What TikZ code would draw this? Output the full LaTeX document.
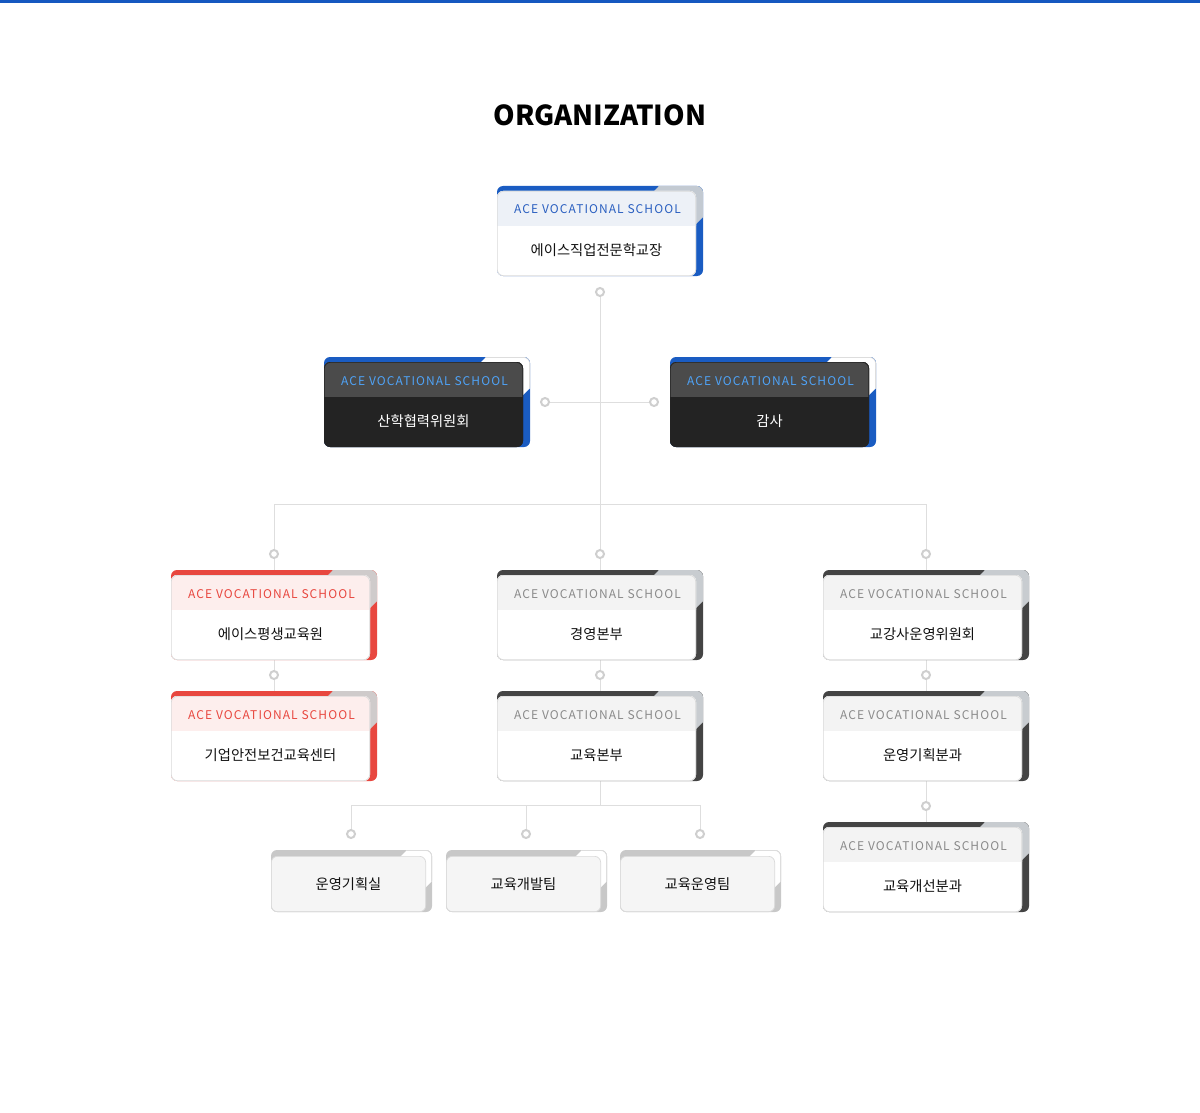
\documentclass[tikz,border=0pt]{standalone}
\usepackage{fontspec}
\setmainfont{Noto Sans CJK KR}
\newfontfamily\krfont{Noto Sans CJK KR}
\newfontfamily\acefont[LetterSpace=9]{Noto Sans CJK KR}
\usetikzlibrary{backgrounds}
\definecolor{topblue}{HTML}{1558C0}
\definecolor{accblue}{HTML}{1A5CC2}
\definecolor{bluecorner}{HTML}{C3CAD2}
\definecolor{bluehead}{HTML}{EDF1F7}
\definecolor{bluetext}{HTML}{2A5FC0}
\definecolor{accred}{HTML}{E8473F}
\definecolor{redcorner}{HTML}{CFCBCB}
\definecolor{redhead}{HTML}{FDEEED}
\definecolor{accdark}{HTML}{444444}
\definecolor{darkcorner}{HTML}{C8CCD0}
\definecolor{greyhead}{HTML}{F3F3F3}
\definecolor{greytext}{HTML}{8A8A8A}
\definecolor{darkhead}{HTML}{4B4B4B}
\definecolor{darkbody}{HTML}{232323}
\definecolor{skytext}{HTML}{4FA3F7}
\definecolor{inborder}{HTML}{DADADA}
\definecolor{outborder}{HTML}{DDDDDD}
\definecolor{smband}{HTML}{C8C8C8}
\definecolor{smfill}{HTML}{F5F5F5}
\definecolor{connline}{HTML}{DEDEDE}
\definecolor{dotring}{HTML}{CFCFCF}
\definecolor{maintxt}{HTML}{111111}

\newcommand{\cardset}[8]{\colorlet{cA}{#1}\colorlet{cC}{#2}\colorlet{cCd}{#3}\colorlet{cH}{#4}\colorlet{cHt}{#5}\colorlet{cB}{#6}\colorlet{cBt}{#7}\colorlet{cIb}{#8}}

\tikzset{
  cardbox/.style={inner sep=0pt, draw=none, rectangle},
  acetext/.style={inner sep=0pt, anchor=base, text=cHt, font=\acefont\fontsize{12}{13}\selectfont},
  maintext/.style={inner sep=0pt, font=\krfont\fontsize{14.3}{16}\selectfont},
  dot/.style={circle, draw=dotring, line width=2pt, fill=white, inner sep=0pt, minimum size=8pt},
  conn/.style={draw=connline, line width=1pt}
}

\newcommand{\bigcard}[4]{%
\begin{scope}[shift={(#2,#3)}]
 \fill[cA, rounded corners=6pt] (0,0) rectangle (206,90);
 \begin{scope}
  \clip (150,12) -- (162,0) -- (162,-3) -- (209,-3) -- (209,28) -- (190,47) -- cycle;
  \filldraw[fill=cC, draw=cCd, line width=0.8pt, rounded corners=6pt] (0.4,0.4) rectangle (205.6,89.6);
 \end{scope}
 \fill[cB, rounded corners=6pt] (0,5) rectangle (199,90);
 \begin{scope}
  \clip (-1,4) rectangle (200,39);
  \fill[cH, rounded corners=6pt] (0,5) rectangle (199,90);
 \end{scope}
 \draw[cIb, line width=0.7pt, rounded corners=6pt] (0.35,5.35) rectangle (198.65,89.65);
 \node[cardbox, minimum width=206pt, minimum height=90pt] (#1) at (103,45) {};
 \node[acetext] (#1h) at (100.5,28) {ACE VOCATIONAL SCHOOL};
 \node[maintext, text=cBt] (#1t) at (99.5,64) {#4};
\end{scope}}

\newcommand{\smallcard}[4]{%
\begin{scope}[shift={(#2,#3)}]
 \fill[smband, rounded corners=6pt] (0,0) rectangle (161,62);
 \begin{scope}
  \clip (124,12) -- (136,0) -- (136,-3) -- (164,-3) -- (164,28) -- (150,42) -- cycle;
  \filldraw[fill=white, draw=outborder, line width=0.8pt, rounded corners=6pt] (0.4,0.4) rectangle (160.6,61.6);
 \end{scope}
 \filldraw[fill=smfill, draw=inborder, line width=0.7pt, rounded corners=6pt] (0.35,6.35) rectangle (154.65,61.65);
 \node[cardbox, minimum width=161pt, minimum height=62pt] (#1) at (80.5,31) {};
 \node[maintext, text=maintxt] (#1t) at (77.5,34) {#4};
\end{scope}}

\begin{document}
\begin{tikzpicture}[x=1pt, y=-1pt]
\useasboundingbox (0,0) rectangle (1200,1113);
\fill[topblue] (0,0) rectangle (1200,3);
\node[inner sep=0pt, anchor=base, font=\krfont\bfseries\fontsize{27.5}{32}\selectfont] (title) at (600,126) {ORGANIZATION};

% top card
\cardset{accblue}{bluecorner}{bluecorner}{bluehead}{bluetext}{white}{maintxt}{inborder}
\bigcard{top}{497}{186}{에이스직업전문학교장}

% dark cards
\cardset{accblue}{white}{outborder}{darkhead}{skytext}{darkbody}{white}{darkbody}
\bigcard{sanhak}{324}{357}{산학협력위원회}
\bigcard{gamsa}{670}{357}{감사}

% red cards
\cardset{accred}{redcorner}{redcorner}{redhead}{accred}{white}{maintxt}{inborder}
\bigcard{pyeong}{171}{570}{에이스평생교육원}
\bigcard{gieop}{171}{691}{기업안전보건교육센터}

% dark accent cards
\cardset{accdark}{darkcorner}{darkcorner}{greyhead}{greytext}{white}{maintxt}{inborder}
\bigcard{gyeong}{497}{570}{경영본부}
\bigcard{gyoyuk}{497}{691}{교육본부}
\bigcard{gang}{823}{570}{교강사운영위원회}
\bigcard{unyeong}{823}{691}{운영기획분과}
\bigcard{gaeseon}{823}{822}{교육개선분과}

% small cards
\smallcard{s1}{271}{850}{운영기획실}
\smallcard{s2}{446}{850}{교육개발팀}
\smallcard{s3}{620}{850}{교육운영팀}

% dots
\node[dot] (c0) at (600,292) {};
\node[dot] (cl) at (545,402) {};
\node[dot] (cr) at (654,402) {};
\node[dot] (d1) at (274,554) {};
\node[dot] (d2) at (600,554) {};
\node[dot] (d3) at (926,554) {};
\node[dot] (e1) at (274,675) {};
\node[dot] (e2) at (600,675) {};
\node[dot] (e3) at (926,675) {};
\node[dot] (g3) at (926,806) {};
\node[dot] (f1) at (351,834) {};
\node[dot] (f2) at (526,834) {};
\node[dot] (f3) at (700,834) {};

\coordinate (bus1) at (274,504);
\coordinate (bus3) at (926,504);
\coordinate (k0) at (600,805);
\coordinate (k1) at (351,805);
\coordinate (k3) at (700,805);

\begin{pgfonlayer}{background}
\fill[white] (0,3) rectangle (1200,1113);
\draw[conn] (c0) -- (d2);
\draw[conn] (cl) -- (cr);
\draw[conn] (d1) -- (bus1) -- (bus3) -- (d3);
\draw[conn] (d1) -- (pyeong);
\draw[conn] (d2) -- (gyeong);
\draw[conn] (d3) -- (gang);
\draw[conn] (pyeong) -- (e1) -- (gieop);
\draw[conn] (gyeong) -- (e2) -- (gyoyuk);
\draw[conn] (gang) -- (e3) -- (unyeong);
\draw[conn] (unyeong) -- (g3) -- (gaeseon);
\draw[conn] (gyoyuk) -- (k0);
\draw[conn] (f1) -- (k1) -- (k3) -- (f3);
\draw[conn] (f2) -- (f2 |- k0);
\end{pgfonlayer}
\end{tikzpicture}
\end{document}
